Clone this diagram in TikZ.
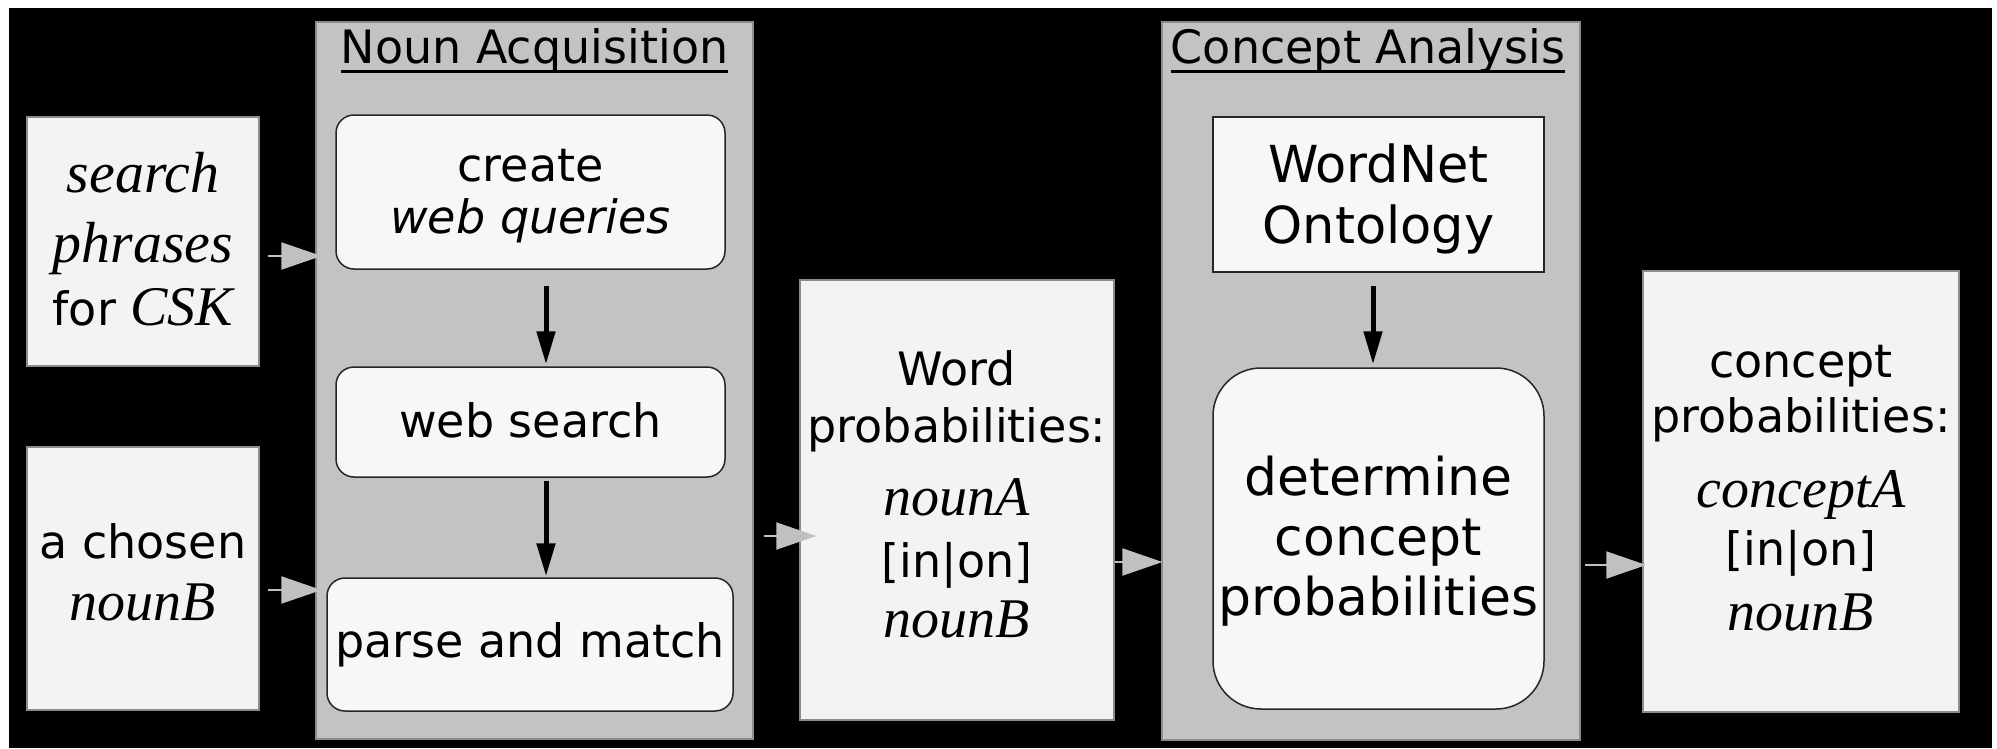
\documentclass[tikz,border=0pt]{standalone}
\usepackage{fontspec}
\setmainfont{DejaVu Sans}
\newfontfamily\tim{Liberation Serif}
\usetikzlibrary{arrows.meta,calc}
\definecolor{panelgray}{HTML}{C3C3C3}
\definecolor{boxfill}{HTML}{F3F3F3}
\definecolor{rboxfill}{HTML}{F7F7F7}
\definecolor{arrgray}{HTML}{C0C0C0}
\newcommand\si[2][56]{{\tim\itshape\fontsize{#1}{60}\selectfont #2}}
\newcommand\myul[1]{\setbox0\hbox{#1}\rlap{\rule[-9.5pt]{\wd0}{2.5pt}}\box0}
\newcommand\xdep[1]{\rule[-#1]{0pt}{0pt}}
\newcommand\xht[1]{\rule{0pt}{#1}}
\begin{document}
\begin{tikzpicture}[x=1pt,y=-1pt,
  panel/.style={draw=black!45,line width=1.2pt,fill=panelgray,inner sep=0pt},
  iobox/.style={draw=black!45,line width=1.5pt,fill=boxfill,inner sep=0pt,align=center},
  rbox/.style={draw=black!85,line width=1.5pt,fill=rboxfill,rounded corners=18pt,inner sep=0pt,align=center},
  sbox/.style={draw=black!85,line width=1.5pt,fill=rboxfill,inner sep=0pt,align=center},
  title/.style={inner sep=0pt,anchor=base,font=\fontsize{46}{52}\selectfont},
  barrow/.style={line width=5pt,-{Triangle[length=33pt,width=18pt]}},
  garrow/.style={arrgray,line width=2pt,-{Triangle[length=40pt,width=27pt]}},
]
\fill[white] (0,0) rectangle (1997,748);
\fill[black] (9,8) rectangle (1992,748);
\useasboundingbox (0,0) rectangle (1997,748);

\node[panel,minimum width=437pt,minimum height=717pt] (p1) at (534.5,380.5) {};
\node[panel,minimum width=418pt,minimum height=718pt] (p2) at (1371,381) {};
\node[title] (t1) at (534.5,63) {\myul{Noun Acquisition}};
\node[title] (t2) at (1368,63) {\myul{Concept Analysis}};

\node[iobox,minimum width=232pt,minimum height=249pt,font=\fontsize{46}{66}\selectfont] (sp) at (143,241.5)
  {\si[58]{search}\\[4pt]\si[58]{phrases}\\[-3pt]for \si[56]{CSK}\xdep{5pt}};
\node[iobox,minimum width=232pt,minimum height=263pt,font=\fontsize{46}{62}\selectfont] (nb) at (143,578.5)
  {a chosen\\[0pt]\si{nounB}\xdep{12pt}};

\node[rbox,minimum width=389pt,minimum height=154pt,font=\fontsize{46}{52.5}\selectfont] (cw) at (530.5,192)
  {\xht{40pt}create\\[0pt]\textit{web queries}};
\node[rbox,minimum width=389pt,minimum height=110pt,font=\fontsize{46}{52}\selectfont] (ws) at (530.5,422)
  {web search\xdep{3pt}};
\node[rbox,minimum width=406pt,minimum height=133pt,font=\fontsize{46}{52}\selectfont] (pm) at (530,644.5)
  {parse and match};

\node[iobox,minimum width=314pt,minimum height=440pt,font=\fontsize{46}{57}\selectfont] (wp) at (957,500)
  {Word\\[0pt]probabilities:\\[16pt]\si{nounA}\\[5pt][in|on]\\[3pt]\si{nounB}\xdep{12pt}};

\node[sbox,minimum width=331pt,minimum height=155pt,font=\fontsize{51}{60.6}\selectfont] (wn) at (1378.5,194.5)
  {\xht{48pt}WordNet\\[0pt]Ontology};
\node[rbox,rounded corners=48pt,minimum width=331pt,minimum height=341pt,font=\fontsize{52}{60}\selectfont] (dc) at (1378.5,538.5)
  {\xht{44pt}determine\\[0pt]concept\\[0pt]probabilities};

\node[iobox,minimum width=316pt,minimum height=441pt,font=\fontsize{46}{55}\selectfont] (cp) at (1801,491.5)
  {concept\\[0pt]probabilities:\\[20pt]\si{conceptA}\\[3pt][in|on]\\[10pt]\si{nounB}\xdep{7pt}};

% black arrows inside panels
\draw[barrow] ([xshift=15.5pt,yshift=-16pt]cw.south) -- ([xshift=15.5pt,yshift=2pt]ws.north);
\draw[barrow] ([xshift=15.5pt,yshift=-3pt]ws.south) -- ([xshift=16pt,yshift=1pt]pm.north);
\draw[barrow] ([xshift=-5.5pt,yshift=-13pt]wn.south) -- ([xshift=-5.5pt,yshift=3pt]dc.north);

% gray data-flow arrows
\coordinate (g1) at ([xshift=8pt,yshift=-14.5pt]sp.east);
\draw[garrow] (g1) -- ($(g1 -| p1.west)+(6,0)$);
\coordinate (g2) at ([xshift=8pt,yshift=-11.5pt]nb.east);
\draw[garrow] (g2) -- ($(g2 -| p1.west)+(6,0)$);
\coordinate (g3) at ([xshift=10pt,yshift=-155.5pt]p1.east);
\draw[garrow] (g3) -- ($(g3 -| wp.west)+(17,0)$);
\coordinate (g4) at ([yshift=-62pt]wp.east);
\draw[garrow] (g4) -- ($(g4 -| p2.west)+(1,0)$);
\coordinate (g5) at ([xshift=4pt,yshift=-184pt]p2.east);
\draw[garrow] (g5) -- ($(g5 -| cp.west)+(4,0)$);
\end{tikzpicture}
\end{document}
